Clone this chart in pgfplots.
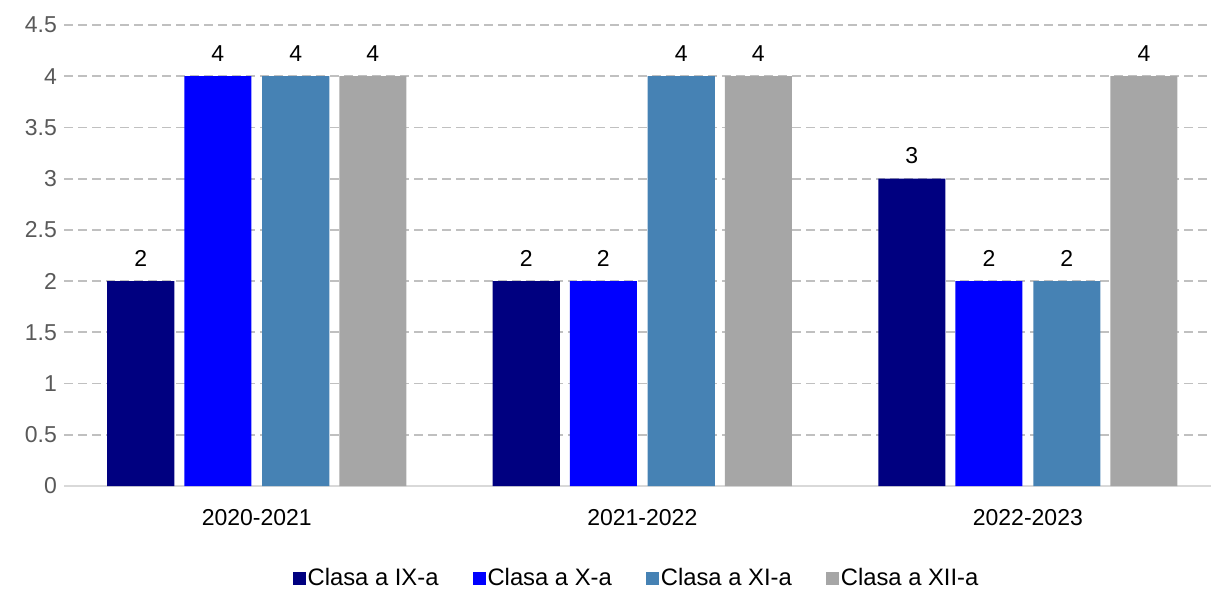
\documentclass[border=0pt]{standalone}
\usepackage{pgfplots}
\pgfplotsset{compat=1.18}
\usepackage{fontspec}
\setmainfont{Liberation Sans}

\definecolor{cNine}{HTML}{000080}
\definecolor{cTen}{HTML}{0000FF}
\definecolor{cEleven}{HTML}{4682B4}
\definecolor{cTwelve}{HTML}{A6A6A6}
\definecolor{tickgray}{HTML}{595959}
\definecolor{gridgray}{HTML}{C0C0C0}
\definecolor{axisgray}{HTML}{D9D9D9}

\begin{document}
\begin{tikzpicture}
\begin{axis}[
    name=ax,
    width=573.5pt, height=230.5pt,
    scale only axis,
    xmin=-0.5, xmax=2.475,
    ymin=0, ymax=4.5,
    ytick={0,0.5,...,4.5},
    xtick={0,1,2},
    xticklabels={2020-2021,2021-2022,2022-2023},
    axis x line*=bottom,
    axis y line*=left,
    y axis line style={draw=none},
    x axis line style={draw=axisgray, line width=0.9pt},
    major tick length=0pt,
    ymajorgrids,
    major grid style={gridgray, line width=0.9pt, dash pattern=on 4.5pt off 2.5pt},
    /pgf/number format/assume math mode=true,
    yticklabel style={text=tickgray, font=\fontsize{11.5}{13}\selectfont},
    xticklabel style={font=\fontsize{11.5}{13}\selectfont, yshift=-8pt},
    every axis y tick label/.append style={xshift=-6pt},
    ybar,
    bar width=0.174,
    nodes near coords,
    every node near coord/.append style={font=\fontsize{11.5}{13}\selectfont, black, yshift=4pt},
    legend columns=4,
    legend style={draw=none, at={(0.5,-0.2)}, anchor=center,
        font=\fontsize{11.9}{13}\selectfont,
        /tikz/every even column/.append style={column sep=15pt},
        /tikz/every odd column/.append style={column sep=-1pt}},
    legend image code/.code={\fill[#1] (0pt,-3.25pt) rectangle (6.5pt,3.25pt);},
]
\addplot[fill=cNine, draw=none, bar shift=-0.301] coordinates {(0,2) (1,2) (2,3)};
\addlegendentry{Clasa a IX-a}
\addplot[fill=cTen, draw=none, bar shift=-0.101] coordinates {(0,4) (1,2) (2,2)};
\addlegendentry{Clasa a X-a}
\addplot[fill=cEleven, draw=none, bar shift=0.101] coordinates {(0,4) (1,4) (2,2)};
\addlegendentry{Clasa a XI-a}
\addplot[fill=cTwelve, draw=none, bar shift=0.301] coordinates {(0,4) (1,4) (2,4)};
\addlegendentry{Clasa a XII-a}
\end{axis}
\pgfresetboundingbox
\path ([shift={(-32pt,-52pt)}]ax.south west) rectangle ([shift={(0pt,12.5pt)}]ax.north east);
\end{tikzpicture}
\end{document}
